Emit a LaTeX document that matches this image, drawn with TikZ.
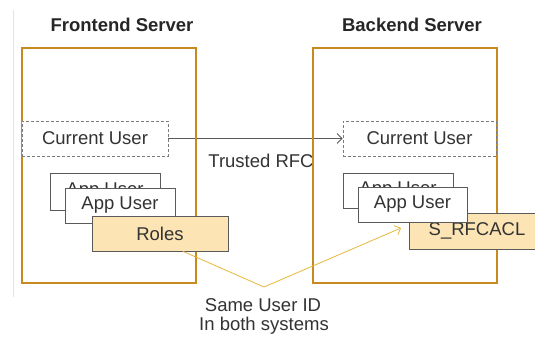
\documentclass[tikz,border=0pt]{standalone}
\usepackage{fontspec}
\setmainfont{Liberation Sans}
\usetikzlibrary{arrows.meta,calc}
\definecolor{frameor}{HTML}{C8891F}
\definecolor{rolefill}{HTML}{FCE4B4}
\definecolor{linkyel}{HTML}{E8B83A}
\definecolor{txt}{HTML}{333333}
\definecolor{boxgray}{HTML}{5A5A5A}
\definecolor{faint}{HTML}{F4E2B8}
\begin{document}
\begin{tikzpicture}[x=1pt,y=-1pt,
  every node/.style={font=\fontsize{18.5}{20}\selectfont, text=txt, inner sep=0pt},
  server/.style={draw=frameor, line width=1.8pt},
  curbox/.style={draw=boxgray!80, dash pattern=on 3pt off 2pt, line width=0.8pt, fill=white},
  userbox/.style={draw=boxgray, line width=0.8pt, fill=white},
  rolebox/.style={draw=boxgray, line width=0.8pt, fill=rolefill},
  title/.style={font=\fontsize{18.5}{20}\selectfont\bfseries, text=black!85},
  rfc/.style={draw=boxgray, line width=0.8pt, -{Straight Barb[length=5pt,width=10pt]}},
  same/.style={draw=linkyel, line width=0.8pt, -{Straight Barb[length=5pt,width=10pt]}}
]
\useasboundingbox (0,0) rectangle (535,337);
\clip (0,0) rectangle (535,337);
\fill[white] (0,0) rectangle (535,337);
\draw[faint, line width=1pt] (13,10) -- (13,297);

% titles
\node[title] (ftitle) at (122,25) {Frontend Server};
\node[title] (btitle) at (412,25) {Backend Server};

% current user boxes (positions) and link
\node[curbox, minimum width=146pt, minimum height=35pt] (fcur) at (95,138.5) {Current User};
\node[curbox, minimum width=153pt, minimum height=35pt] (bcur) at (419.5,138.5) {Current User};
\draw[rfc] (fcur.east) -- (bcur.west);
\node (trusted) at (261,161) {Trusted RFC};

% server frames
\node[server, minimum width=174pt, minimum height=235pt] (front) at (109,165.5) {};
\node[server, minimum width=184pt, minimum height=235pt] (back) at (405,165.5) {};

% redraw current user boxes over frames
\node[curbox, minimum width=146pt, minimum height=35pt] at (95,138.5) {Current User};
\node[curbox, minimum width=153pt, minimum height=35pt] at (419.5,138.5) {Current User};

% frontend users
\node[userbox, minimum width=110pt, minimum height=37pt] (fapp1) at (105,191.5) {App User};
\node[userbox, minimum width=110pt, minimum height=35pt] (fapp2) at (120,205.5) {App User};
\node[rolebox, minimum width=136pt, minimum height=35pt] (roles) at (160,233.5) {Roles};

% backend users
\node[userbox, minimum width=110pt, minimum height=35pt] (bapp1) at (398,190.5) {App User};
\node[rolebox, minimum width=136pt, minimum height=36pt] (acl) at (477,231) {S\_RFCACL};
\node[userbox, minimum width=109pt, minimum height=35pt] (bapp2) at (412.5,204.5) {App User};

% same user id link
\coordinate (bend) at (264,287);
\coordinate (tip) at (401,228);
\draw[same] ([xshift=23pt]roles.south) -- (bend) -- (tip);
\node (same1) at (263,305) {Same User ID};
\node (same2) at (264,326) {In both systems};
\end{tikzpicture}
\end{document}
